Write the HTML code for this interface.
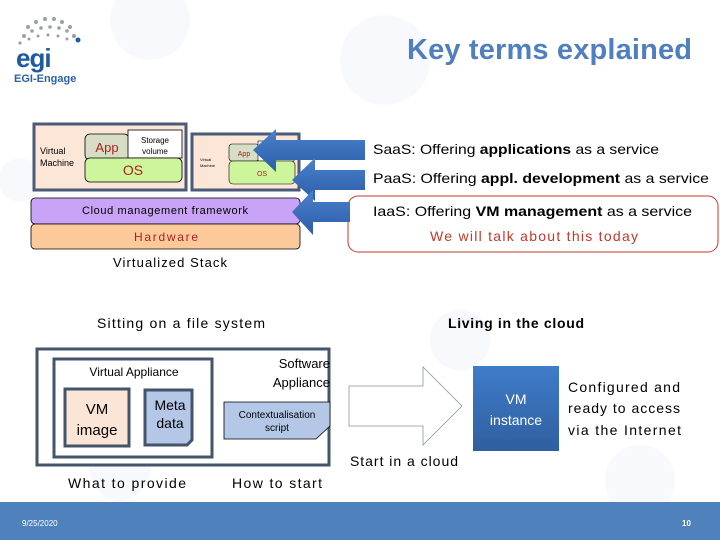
<!DOCTYPE html>
<html><head><meta charset="utf-8"><style>
html,body{margin:0;padding:0;background:#fff}
svg{display:block;font-family:"Liberation Sans",sans-serif}
</style></head><body>
<svg width="720" height="540" viewBox="0 0 720 540" xmlns="http://www.w3.org/2000/svg">
<defs>
<linearGradient id="ag" x1="0" y1="0" x2="0" y2="1"><stop offset="0" stop-color="#4a80cc"/><stop offset="1" stop-color="#2c5ea8"/></linearGradient>
<linearGradient id="vg" x1="0" y1="0" x2="0" y2="1"><stop offset="0" stop-color="#3f7cc9"/><stop offset="1" stop-color="#2f5f9f"/></linearGradient>
</defs>
<g fill="#f8f9fc">
<circle cx="150" cy="20" r="40"/><circle cx="385" cy="60" r="45"/><circle cx="20" cy="180" r="22"/><circle cx="120" cy="470" r="30"/><circle cx="460" cy="340" r="30"/><circle cx="640" cy="480" r="35"/>
</g>
<!-- logo -->
<g fill="#9aa0a8">
<circle cx="28" cy="27" r="2"/><circle cx="36" cy="22" r="2"/><circle cx="45" cy="19" r="2"/><circle cx="54" cy="19" r="2"/><circle cx="62" cy="22" r="2"/><circle cx="70" cy="27" r="2"/>
<circle cx="24" cy="36" r="2"/><circle cx="32" cy="31" r="1.8"/><circle cx="41" cy="28" r="1.8"/><circle cx="50" cy="27" r="1.8"/><circle cx="59" cy="28" r="1.8"/><circle cx="67" cy="31" r="1.8"/><circle cx="74" cy="36" r="2"/>
<circle cx="20" cy="43" r="1.6"/><circle cx="29" cy="39" r="1.5"/><circle cx="38" cy="36" r="1.5"/><circle cx="48" cy="35" r="1.5"/><circle cx="58" cy="36" r="1.5"/><circle cx="67" cy="39" r="1.5"/>
</g>
<circle cx="78" cy="40" r="2.5" fill="#1e5aa0"/>
<text x="16" y="67" font-size="26" font-weight="bold" fill="#1e5aa0" letter-spacing="-1">egi</text>
<text x="14" y="82" font-size="11" font-weight="bold" fill="#2a62a6">EGI-Engage</text>
<text x="407" y="59" font-size="29" font-weight="bold" fill="#4f7fbf" textLength="285">Key terms explained</text>
<!-- stack -->
<rect x="34" y="124" width="152" height="66" fill="#fbe6d8" stroke="#4a5a78" stroke-width="3"/>
<text x="40" y="154" font-size="9">Virtual</text><text x="40" y="166" font-size="9">Machine</text>
<rect x="85" y="134" width="44" height="26" rx="5" fill="#d7ddc6" stroke="#000" stroke-width="0.8"/>
<text x="107" y="152" font-size="13" fill="#a22" text-anchor="middle">App</text>
<rect x="128" y="130" width="54" height="28" fill="#fff" stroke="#000" stroke-width="0.8"/>
<text x="155" y="143" font-size="8" text-anchor="middle">Storage</text><text x="155" y="154" font-size="8" text-anchor="middle">volume</text>
<rect x="85" y="158" width="97" height="24" rx="5" fill="#cdf59c" stroke="#000" stroke-width="0.8"/>
<text x="133" y="175" font-size="14" fill="#a22" text-anchor="middle">OS</text>
<rect x="192" y="134" width="107" height="56" fill="#fbe6d8" stroke="#4a5a78" stroke-width="3"/>
<text x="200" y="161" font-size="4">Virtual</text><text x="200" y="167" font-size="4">Machine</text>
<rect x="229" y="144" width="30" height="17" rx="3" fill="#d7ddc6" stroke="#000" stroke-width="0.6"/>
<text x="244" y="156" font-size="7" fill="#a22" text-anchor="middle">App</text>
<rect x="258" y="141" width="36" height="20" fill="#fff" stroke="#000" stroke-width="0.6"/>
<rect x="229" y="161" width="66" height="23" rx="4" fill="#cdf59c" stroke="#000" stroke-width="0.6"/>
<text x="262" y="176" font-size="7" fill="#a22" text-anchor="middle">OS</text>
<rect x="31" y="198" width="269" height="26" rx="4" fill="#c9a3f5" stroke="#000" stroke-width="0.8"/>
<text x="165" y="214" font-size="11" text-anchor="middle" textLength="166">Cloud management framework</text>
<rect x="31" y="224" width="269" height="25" rx="4" fill="#fcc99a" stroke="#000" stroke-width="0.8"/>
<text x="166" y="241" font-size="12" fill="#a22" text-anchor="middle" textLength="64">Hardware</text>
<text x="170" y="267" font-size="13" text-anchor="middle" textLength="114">Virtualized Stack</text>
<!-- red box -->
<rect x="348" y="196" width="370" height="56" rx="10" fill="#fff" stroke="#c0392b" stroke-width="1"/>
<!-- arrows -->
<polygon points="253,150 276,129 276,140 365,140 365,160 276,160 276,172" fill="url(#ag)"/>
<polygon points="292,180 315,158 315,170 365,170 365,190 315,190 315,201" fill="url(#ag)"/>
<polygon points="292,212 313,190 313,202 350,202 350,222 313,222 313,235" fill="url(#ag)"/>
<text x="373" y="154" font-size="14" textLength="286" lengthAdjust="spacingAndGlyphs">SaaS: Offering <tspan font-weight="bold">applications</tspan> as a service</text>
<text x="373" y="183" font-size="14" textLength="336" lengthAdjust="spacingAndGlyphs">PaaS: Offering <tspan font-weight="bold">appl. development</tspan> as a service</text>
<text x="373" y="216" font-size="14" textLength="319" lengthAdjust="spacingAndGlyphs">IaaS: Offering <tspan font-weight="bold">VM management</tspan> as a service</text>
<text x="534" y="241" font-size="14" fill="#c0392b" text-anchor="middle" textLength="208">We will talk about this today</text>
<!-- bottom -->
<text x="181" y="328" font-size="14" text-anchor="middle" textLength="168">Sitting on a file system</text>
<text x="516" y="328" font-size="14" font-weight="bold" text-anchor="middle" textLength="136">Living in the cloud</text>
<rect x="37" y="349" width="292" height="116" fill="#fff" stroke="#44546a" stroke-width="3"/>
<rect x="54" y="359" width="158" height="98" fill="#fff" stroke="#44546a" stroke-width="3"/>
<text x="134" y="376" font-size="12" text-anchor="middle">Virtual Appliance</text>
<rect x="65" y="389" width="64" height="57" fill="#fbe5d6" stroke="#44546a" stroke-width="3"/>
<text x="97" y="414" font-size="15" text-anchor="middle">VM</text><text x="97" y="435" font-size="15" text-anchor="middle">image</text>
<path d="M145,390 H192 V440 L187,445 H145 Z" fill="#b4c7e7" stroke="#44546a" stroke-width="3"/>
<text x="170" y="410" font-size="14" text-anchor="middle">Meta</text><text x="170" y="428" font-size="14" text-anchor="middle">data</text>
<text x="330" y="368" font-size="13" text-anchor="end">Software</text><text x="330" y="387" font-size="13" text-anchor="end">Appliance</text>
<path d="M224,402 H330 V426 L316,439 H224 Z" fill="#b4c7e7" stroke="#000" stroke-width="0.8"/>
<text x="277" y="418" font-size="10" text-anchor="middle">Contextualisation</text>
<text x="277" y="431" font-size="10" text-anchor="middle">script</text>
<text x="127" y="488" font-size="14" text-anchor="middle" textLength="118">What to provide</text>
<text x="277" y="488" font-size="14" text-anchor="middle" textLength="90">How to start</text>
<polygon points="349,386 423,386 423,367 462,406 423,445 423,426 349,426" fill="#fff" stroke="#8a95a5" stroke-width="0.8"/>
<text x="404" y="466" font-size="14" text-anchor="middle" textLength="108">Start in a cloud</text>
<rect x="473" y="366" width="86" height="85" fill="url(#vg)"/>
<text x="516" y="404" font-size="14" fill="#fff" text-anchor="middle">VM</text>
<text x="516" y="425" font-size="14" fill="#fff" text-anchor="middle">instance</text>
<text x="568" y="392" font-size="14" textLength="112">Configured and</text>
<text x="568" y="413" font-size="14" textLength="112">ready to access</text>
<text x="568" y="435" font-size="14" textLength="113">via the Internet</text>
<rect x="0" y="502" width="720" height="38" fill="#4f81bd"/>
<text x="22" y="526" font-size="8" fill="#fff">9/25/2020</text>
<text x="682" y="526" font-size="8" font-weight="bold" fill="#fff">10</text>
</svg>
</body></html>
